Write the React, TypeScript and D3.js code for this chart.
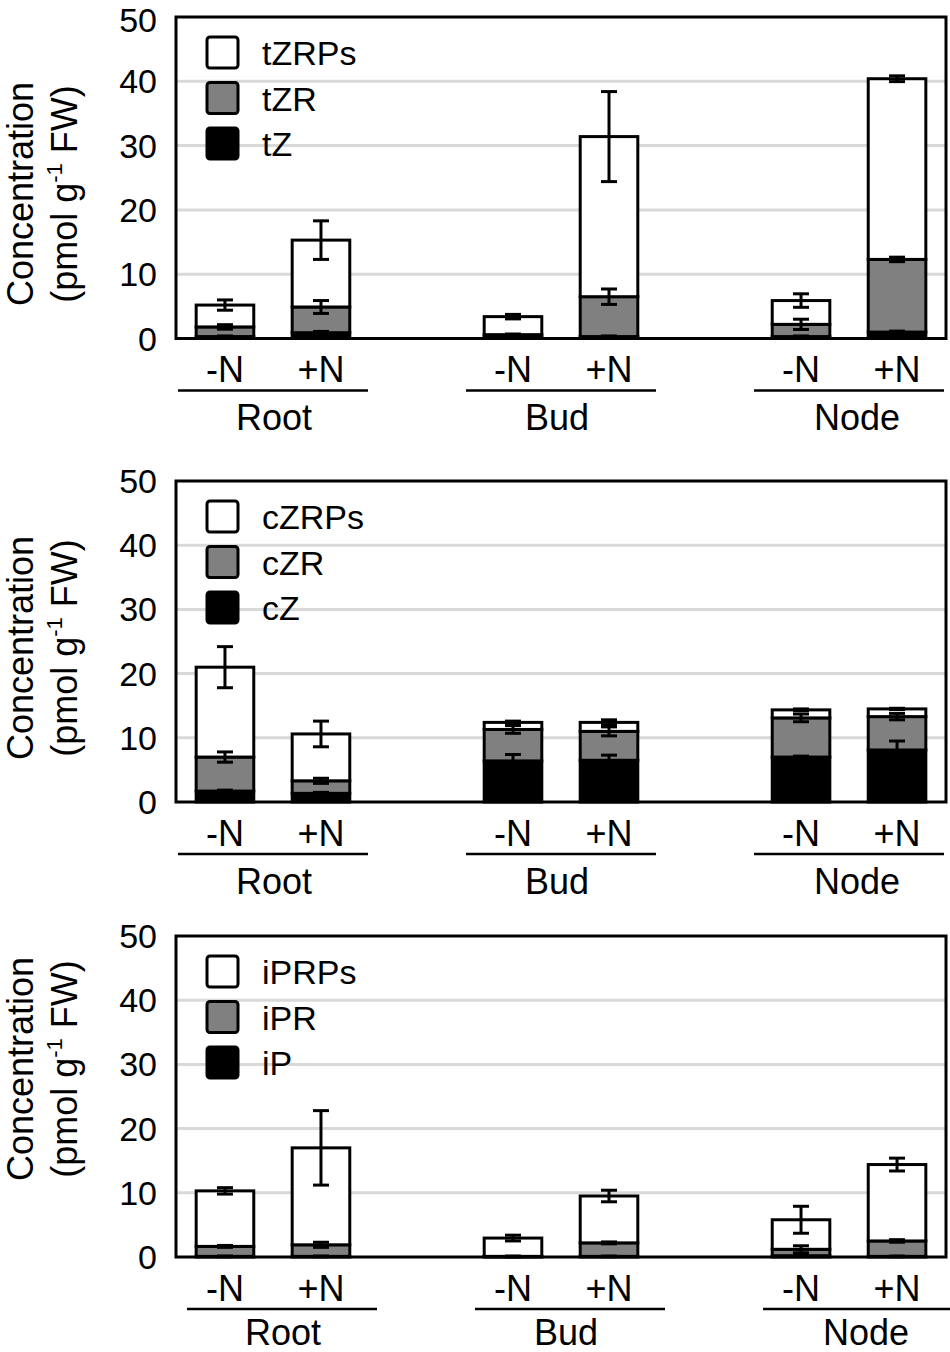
import React from 'react';
import * as d3 from 'd3';

// bars, left to right
const groups = ['Root', 'Bud', 'Node'];
const treatments = ['-N', '+N'];
const barKeys = ['Root|-N', 'Root|+N', 'Bud|-N', 'Bud|+N', 'Node|-N', 'Node|+N'];
// empty slots make the gaps between tissues
const slotKeys = ['Root|-N', 'Root|+N', 'gap1', 'Bud|-N', 'Bud|+N', 'gap2', 'Node|-N', 'Node|+N'];
const yTicks = [0, 10, 20, 30, 40, 50];
const gridTicks = [10, 20, 30, 40];

// panel 1: trans-zeatin types (pmol g-1 FW)
const tZNames = ['tZRPs', 'tZR', 'tZ'];
const tZ = [0.3, 0.9, 0.15, 0.3, 0.3, 1.0];
const tZErr = [0.1, 0.2, 0.05, 0.1, 0.1, 0.15];
const tZR = [1.5, 4.0, 0.45, 6.2, 1.9, 11.3];
const tZRErr = [0.35, 1.0, 0.1, 1.2, 0.8, 0.35];
const tZRPs = [3.4, 10.4, 2.8, 24.9, 3.7, 28.1];
const tZRPsErr = [0.8, 3.0, 0.35, 7.0, 1.05, 0.45];

// panel 2: cis-zeatin types
const cZNames = ['cZRPs', 'cZR', 'cZ'];
const cZ = [1.7, 1.35, 6.4, 6.5, 7.0, 8.1];
const cZErr = [0.15, 0.15, 1.0, 0.8, 0.15, 1.4];
const cZR = [5.3, 1.95, 4.9, 4.5, 6.1, 5.2];
const cZRErr = [0.8, 0.4, 0.6, 0.7, 0.6, 0.5];
const cZRPs = [14.0, 7.3, 1.1, 1.4, 1.25, 1.2];
const cZRPsErr = [3.2, 2.0, 0.2, 0.4, 0.15, 0.1];

// panel 3: iP types
const iPNames = ['iPRPs', 'iPR', 'iP'];
const iP = [0.1, 0.1, 0.05, 0.1, 0.2, 0.1];
const iPErr = [0.05, 0.05, 0.03, 0.05, 0.1, 0.05];
const iPR = [1.55, 1.8, 0.05, 2.1, 1.0, 2.4];
const iPRErr = [0.15, 0.4, 0.05, 0.15, 0.55, 0.2];
const iPRPs = [8.65, 15.1, 2.85, 7.3, 4.6, 11.9];
const iPRPsErr = [0.5, 5.8, 0.45, 0.9, 2.1, 1.0];

const W = 950;
const H = 1352;
const FONT = "'Liberation Sans', Arial, sans-serif";
const fills = ['#000000', '#808080', '#ffffff']; // base, riboside, RPs
const groupLabelDx = [1, -4, 8]; // tissue names sit a little off the line centre

const panels = [
  { names: tZNames, vals: [tZ, tZR, tZRPs], errs: [tZErr, tZRErr, tZRPsErr], top: 17, bottom: 338.5, labelCy: 194, dx: 0 },
  { names: cZNames, vals: [cZ, cZR, cZRPs], errs: [cZErr, cZRErr, cZRPsErr], top: 481, bottom: 802, labelCy: 648, dx: 0 },
  { names: iPNames, vals: [iP, iPR, iPRPs], errs: [iPErr, iPRErr, iPRPsErr], top: 936, bottom: 1257, labelCy: 1069, dx: 9 },
];

const x = d3.scaleBand<string>().domain(slotKeys).range([176, 946]).paddingInner(0.4).paddingOuter(0.21);
const bw = x.bandwidth();
const cx = (k: string) => (x(k) as number) + bw / 2;

function Panel({ p }: { p: typeof panels[number] }) {
  const y = d3.scaleLinear().domain([0, 50]).range([p.bottom, p.top]);
  const rows = barKeys.map((k, i) => ({ key: k, base: p.vals[0][i], rib: p.vals[1][i], rps: p.vals[2][i] }));
  const series = d3.stack<any>().keys(['base', 'rib', 'rps'])(rows);
  const capW = 16;
  // keep the edge texts inside the page
  const groupY = Math.min(p.bottom + 79, H - 20);
  const tickY = (t: number) => Math.max(y(t) + 12, 32);

  return (
    <g>
      {gridTicks.map(t => (
        <line key={t} x1={176} x2={946} y1={y(t)} y2={y(t)} stroke="#d9d9d9" strokeWidth={3} />
      ))}

      {/* legend, no background: grid shows through */}
      {p.names.map((n, i) => {
        const sy = p.top + 20 + i * 45.5;
        return (
          <g key={n}>
            <rect x={207} y={sy} width={31} height={31} rx={3} fill={fills[2 - i]} stroke="#000" strokeWidth={3} />
            <text x={262} y={sy + 16} fontSize={34} dominantBaseline="central" fontFamily={FONT}>{n}</text>
          </g>
        );
      })}

      {series.map((s, j) =>
        s.map((d, i) => (
          <rect
            key={`${j}-${i}`}
            x={x(barKeys[i])}
            width={bw}
            y={y(d[1])}
            height={Math.max(0, y(d[0]) - y(d[1]))}
            fill={fills[j]}
            stroke="#000"
            strokeWidth={3}
          />
        ))
      )}

      {series.map((s, j) =>
        s.map((d, i) => {
          const e = p.errs[j][i];
          const xc = cx(barKeys[i]);
          const y1 = y(d[1] + e);
          const y2 = y(Math.max(0, d[1] - e));
          return (
            <g key={`e${j}-${i}`} stroke="#000" strokeWidth={3}>
              <line x1={xc} x2={xc} y1={y1} y2={y2} />
              <line x1={xc - capW / 2} x2={xc + capW / 2} y1={y1} y2={y1} />
              <line x1={xc - capW / 2} x2={xc + capW / 2} y1={y2} y2={y2} />
            </g>
          );
        })
      )}

      <rect x={176} y={p.top} width={770} height={p.bottom - p.top} fill="none" stroke="#000" strokeWidth={3} />

      {yTicks.map(t => (
        <text key={t} x={157} y={tickY(t)} fontSize={34} textAnchor="end" fontFamily={FONT}>{t}</text>
      ))}

      <g transform={`translate(0, ${p.labelCy}) rotate(-90)`} fontFamily={FONT} fontSize={36} textAnchor="middle">
        <text x={0} y={33}>Concentration</text>
        <text x={0} y={77}>
          (pmol g<tspan fontSize={22} dy={-15}>-1</tspan><tspan dy={15}> FW)</tspan>
        </text>
      </g>

      {barKeys.map((k, i) => (
        <text key={k} x={cx(k)} y={p.bottom + 31} fontSize={36} textAnchor="middle" dominantBaseline="central" fontFamily={FONT}>
          {treatments[i % 2]}
        </text>
      ))}

      {groups.map((g, gi) => {
        const a = cx(`${g}|-N`) - 47 + p.dx;
        const b = cx(`${g}|+N`) + 47 + p.dx;
        return (
          <g key={g}>
            <line x1={a} x2={b} y1={p.bottom + 52} y2={p.bottom + 52} stroke="#000" strokeWidth={2.5} />
            <text x={(a + b) / 2 + groupLabelDx[gi]} y={groupY} fontSize={36} textAnchor="middle" dominantBaseline="central" fontFamily={FONT}>{g}</text>
          </g>
        );
      })}
    </g>
  );
}

export default function App() {
  return (
    <svg width={W} height={H} style={{ position: 'absolute', left: 0, top: 0, background: '#fff' }}>
      <rect width={W} height={H} fill="#fff" />
      {panels.map((p, i) => <Panel key={i} p={p} />)}
    </svg>
  );
}
